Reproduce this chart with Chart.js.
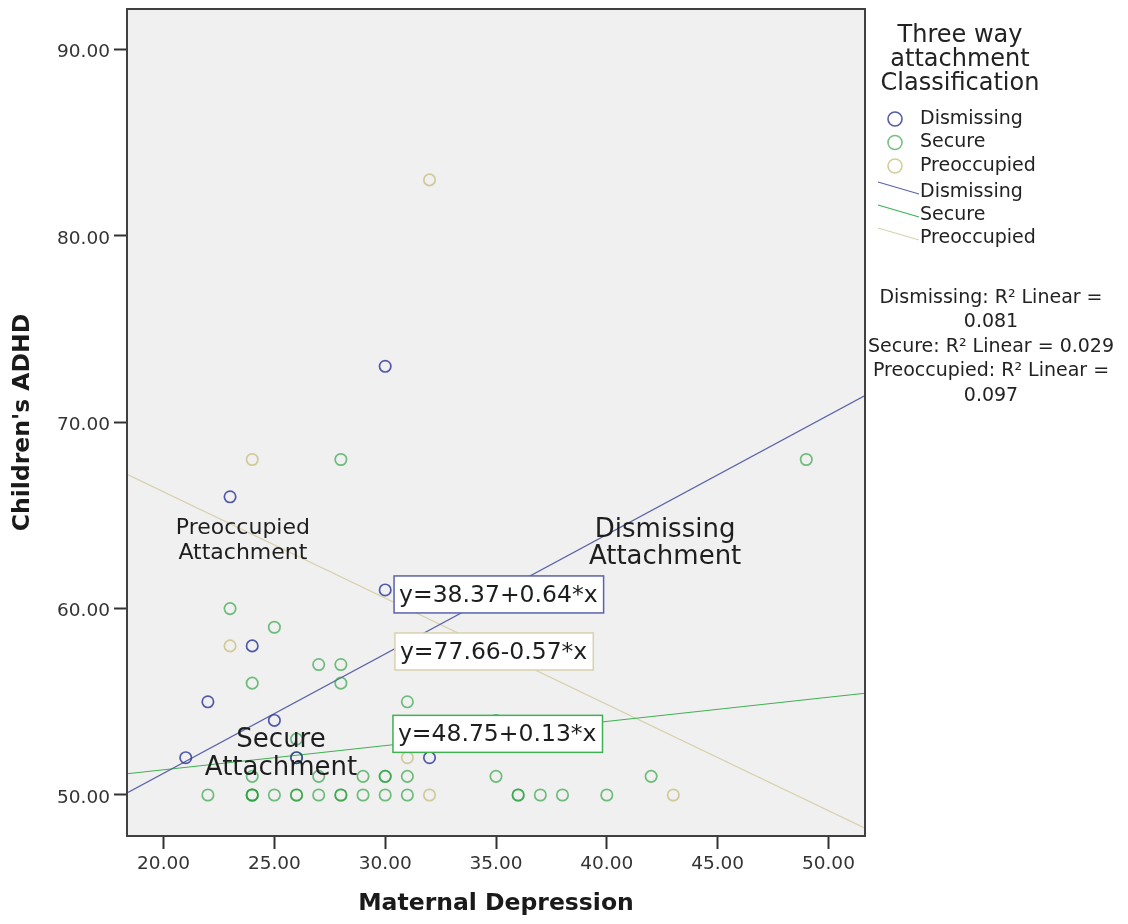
<!DOCTYPE html>
<html>
<head>
<meta charset="utf-8">
<script src="https://cdn.jsdelivr.net/npm/chart.js@4.4.1/dist/chart.umd.min.js"></script>
<style>
  html, body { margin: 0; padding: 0; background: #fff; }
  #wrap { width: 1128px; height: 924px; }
</style>
</head>
<body>
<div id="wrap"><canvas id="chart" width="1128" height="924"></canvas></div>
<script>
var xTicks = [20, 25, 30, 35, 40, 45, 50];
var yTicks = [50, 60, 70, 80, 90];

var groups = ['Dismissing', 'Secure', 'Preoccupied'];
var equations = ['y=38.37+0.64*x', 'y=48.75+0.13*x', 'y=77.66-0.57*x'];
var rSquared = ['0.081', '0.029', '0.097'];

var dismissingX = [21, 22, 23, 24, 25, 26, 30, 30, 32];
var dismissingY = [52, 55, 66, 58, 54, 52, 73, 61, 52];

var secureX = [22, 23, 24, 24, 24, 24, 24, 25, 25, 26, 26, 26, 26, 27, 27, 27, 28, 28, 28, 28, 28,
               29, 29, 30, 30, 30, 31, 31, 31, 35, 35, 36, 36, 37, 38, 40, 42, 49];
var secureY = [50, 60, 56, 51, 50, 50, 50, 59, 50, 53, 52, 50, 50, 57, 51, 50, 68, 57, 56, 50, 50,
               51, 50, 51, 51, 50, 55, 51, 50, 54, 51, 50, 50, 50, 50, 50, 51, 68];

var preoccupiedX = [23, 24, 31, 32, 32, 43];
var preoccupiedY = [58, 68, 52, 83, 50, 50];

// fit lines, read at the left and right edge of the plot
var fitX = [18.35, 51.65];
var dismissingFit = [50.11, 71.43];
var secureFit = [51.14, 55.46];
var preoccupiedFit = [67.2, 48.22];

var pointColors = ['rgba(40,50,150,0.8)', 'rgba(40,160,60,0.65)', 'rgba(200,192,130,0.8)'];
var lineColors = ['#5a62ab', '#3fb152', '#d8d1ae'];
var font = '"DejaVu Sans", Verdana, sans-serif';

function zip(xs, ys) {
  return xs.map(function(x, i) { return { x: x, y: ys[i] }; });
}

function pointSet(label, xs, ys, color) {
  return { label: label, data: zip(xs, ys), pointStyle: 'circle', pointRadius: 5.7, pointHoverRadius: 5.7,
    borderColor: color, backgroundColor: 'transparent', pointBorderWidth: 1.7, showLine: false };
}

function fitSet(label, ys, color) {
  return { label: label, data: zip(fitX, ys), showLine: true, pointRadius: 0, borderColor: color,
    borderWidth: 1.2, fill: false, order: 5 };
}

function drawNotes(chart) {
  var c = chart.ctx, sx = chart.scales.x, sy = chart.scales.y;
  c.save();
  c.fillStyle = '#1e1e1e';
  c.textAlign = 'center';
  c.textBaseline = 'middle';
  var notes = [
    { x: 23.58, y: 63.66, size: 22, gap: 25, lines: ['Preoccupied', 'Attachment'] },
    { x: 42.63, y: 63.49, size: 26, gap: 27, lines: ['Dismissing', 'Attachment'] },
    { x: 25.30, y: 52.20, size: 26, gap: 28, lines: ['Secure', 'Attachment'] }
  ];
  notes.forEach(function(n) {
    c.font = n.size + 'px ' + font;
    var px = sx.getPixelForValue(n.x), py = sy.getPixelForValue(n.y);
    c.fillText(n.lines[0], px, py - n.gap / 2);
    c.fillText(n.lines[1], px, py + n.gap / 2);
  });

  var boxes = [
    { x: 30.40, y: 60.76, i: 0 },
    { x: 30.35, y: 53.28, i: 1 },
    { x: 30.44, y: 57.70, i: 2 }
  ];
  c.font = '23.5px ' + font;
  c.textAlign = 'left';
  boxes.forEach(function(b) {
    var left = sx.getPixelForValue(b.x), cy = sy.getPixelForValue(b.y);
    var w = c.measureText(equations[b.i]).width + 11, h = 37;
    c.fillStyle = '#ffffff';
    c.fillRect(left, cy - h / 2, w, h);
    c.strokeStyle = lineColors[b.i];
    c.lineWidth = 1.5;
    c.strokeRect(left, cy - h / 2, w, h);
    c.fillStyle = '#1e1e1e';
    c.fillText(equations[b.i], left + 5, cy + 1);
  });
  c.restore();
}

function drawLegend(chart) {
  var c = chart.ctx;
  c.save();
  c.fillStyle = '#222';
  c.textAlign = 'center';
  c.textBaseline = 'middle';
  c.font = '24px ' + font;
  ['Three way', 'attachment', 'Classification'].forEach(function(t, i) {
    c.fillText(t, 960, 36 + i * 24);
  });

  c.font = '19px ' + font;
  c.textAlign = 'left';
  groups.forEach(function(g, i) {
    var y = 119 + i * 23.5;
    c.beginPath();
    c.arc(895, y, 7, 0, Math.PI * 2);
    c.strokeStyle = pointColors[i];
    c.lineWidth = 1.6;
    c.stroke();
    c.fillStyle = '#222';
    c.fillText(g, 920, y);
  });
  groups.forEach(function(g, i) {
    var y = 192 + i * 23;
    c.beginPath();
    c.moveTo(878, y - 10);
    c.lineTo(919, y + 2);
    c.strokeStyle = lineColors[i];
    c.lineWidth = 1.2;
    c.stroke();
    c.fillStyle = '#222';
    c.fillText(g, 920, y);
  });

  c.textAlign = 'center';
  var rLines = [
    groups[0] + ': R\u00B2 Linear =', rSquared[0],
    groups[1] + ': R\u00B2 Linear = ' + rSquared[1],
    groups[2] + ': R\u00B2 Linear =', rSquared[2]
  ];
  rLines.forEach(function(t, i) {
    c.fillText(t, 991, 298 + i * 24.5);
  });
  c.restore();
}

var decor = {
  id: 'decor',
  beforeDraw: function(chart) {
    var a = chart.chartArea, c = chart.ctx;
    c.save();
    c.fillStyle = '#f0f0f0';
    c.fillRect(a.left, a.top, a.right - a.left, a.bottom - a.top);
    c.restore();
  },
  afterDatasetsDraw: function(chart) { drawNotes(chart); },
  afterDraw: function(chart) {
    var a = chart.chartArea, c = chart.ctx;
    c.save();
    c.strokeStyle = '#404040';
    c.lineWidth = 2;
    c.strokeRect(a.left, a.top, a.right - a.left, a.bottom - a.top);
    c.restore();
    drawLegend(chart);
  }
};

new Chart(document.getElementById('chart').getContext('2d'), {
  type: 'scatter',
  data: {
    datasets: [
      pointSet(groups[0], dismissingX, dismissingY, pointColors[0]),
      pointSet(groups[1], secureX, secureY, pointColors[1]),
      pointSet(groups[2], preoccupiedX, preoccupiedY, pointColors[2]),
      fitSet(groups[0] + ' fit', dismissingFit, lineColors[0]),
      fitSet(groups[1] + ' fit', secureFit, lineColors[1]),
      fitSet(groups[2] + ' fit', preoccupiedFit, lineColors[2])
    ]
  },
  options: {
    responsive: false, animation: false,
    layout: { padding: { top: 9, right: 263, left: 0, bottom: 0 } },
    plugins: { legend: { display: false }, tooltip: { enabled: false } },
    scales: {
      x: {
        type: 'linear', min: 18.35, max: 51.65,
        afterBuildTicks: function(s) { s.ticks = xTicks.map(function(v) { return { value: v }; }); },
        afterFit: function(s) { s.height = 88; s.paddingLeft = 0; s.paddingRight = 0; },
        ticks: { font: { family: font, size: 18.5 }, color: '#333', padding: 4, maxRotation: 0,
          callback: function(v) { return v.toFixed(2); } },
        grid: { drawOnChartArea: false, tickLength: 13, tickWidth: 2, tickColor: '#333' },
        border: { display: false },
        title: { display: true, text: 'Maternal Depression', color: '#1a1a1a',
          font: { family: font, size: 23.5, weight: 'bold' }, padding: { top: 0, bottom: 6 } }
      },
      y: {
        type: 'linear', min: 47.8, max: 92.17,
        afterBuildTicks: function(s) { s.ticks = yTicks.map(function(v) { return { value: v }; }); },
        afterFit: function(s) { s.width = 127; s.paddingTop = 0; s.paddingBottom = 0; },
        ticks: { font: { family: font, size: 18.5 }, color: '#333', padding: 4, labelOffset: 3,
          callback: function(v) { return v.toFixed(2); } },
        grid: { drawOnChartArea: false, tickLength: 13, tickWidth: 2, tickColor: '#333' },
        border: { display: false },
        title: { display: true, text: "Children's ADHD", color: '#1a1a1a',
          font: { family: font, size: 23.5, weight: 'bold' }, padding: { top: 9, bottom: 0 } }
      }
    }
  },
  plugins: [decor]
});
</script>
</body>
</html>
